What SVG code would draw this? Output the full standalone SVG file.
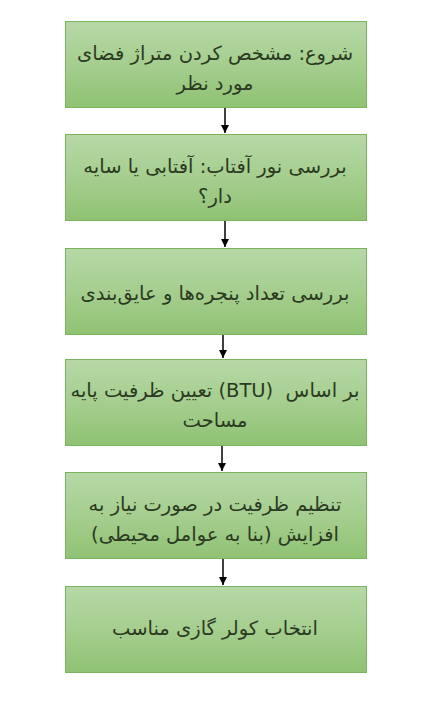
<svg xmlns="http://www.w3.org/2000/svg" width="438" height="705" viewBox="0 0 438 705">
<defs>
<linearGradient id="g" x1="0" y1="0" x2="0" y2="1">
<stop offset="0" stop-color="#b6d8a6"/>
<stop offset="0.5" stop-color="#a5ce8f"/>
<stop offset="1" stop-color="#8fc273"/>
</linearGradient>
<marker id="ah" viewBox="0 0 10 10" refX="10" refY="5" markerWidth="8" markerHeight="8" markerUnits="userSpaceOnUse" orient="auto">
<path d="M0,0 L10,5 L0,10 z" fill="#000"/>
</marker>
<style>
.box{fill:url(#g);stroke:#7cb45d;stroke-width:1}
.t{font-family:"DejaVu Sans","Noto Sans",sans-serif;font-size:19.5px;fill:#2b3a22;text-anchor:middle;direction:rtl}
.c{stroke:#000;stroke-width:1.5;fill:none;marker-end:url(#ah)}
</style>
</defs>
<rect width="438" height="705" fill="#fff"/>
<g id="connectors">
<line class="c" x1="225" y1="107" x2="225" y2="133"/>
<line class="c" x1="225" y1="220" x2="225" y2="247"/>
<line class="c" x1="223" y1="334" x2="223" y2="358"/>
<line class="c" x1="222" y1="445" x2="222" y2="471"/>
<line class="c" x1="223" y1="558" x2="223" y2="585"/>
</g>
<g id="n1">
<rect class="box" x="65.5" y="21.5" width="301" height="86"/>
<text class="t" x="215" y="60">شروع: مشخص کردن متراژ فضای</text>
<text class="t" x="215" y="90">مورد نظر</text>
</g>
<g id="n2">
<rect class="box" x="65.5" y="134.5" width="301" height="86"/>
<text class="t" x="215" y="173">بررسی نور آفتاب: آفتابی یا سایه</text>
<text class="t" x="215" y="203">دار؟</text>
</g>
<g id="n3">
<rect class="box" x="65.5" y="248.5" width="301" height="86"/>
<text class="t" x="215" y="300">بررسی تعداد پنجره‌ها و عایق‌بندی</text>
</g>
<g id="n4">
<rect class="box" x="65.5" y="359.5" width="301" height="86"/>
<text class="t" x="215" y="397" xml:space="preserve">بر اساس  (BTU) تعیین ظرفیت پایه</text>
<text class="t" x="215" y="427">مساحت</text>
</g>
<g id="n5">
<rect class="box" x="65.5" y="472.5" width="301" height="86"/>
<text class="t" x="215" y="511">تنظیم ظرفیت در صورت نیاز به</text>
<text class="t" x="215" y="541">افزایش (بنا به عوامل محیطی)</text>
</g>
<g id="n6">
<rect class="box" x="65.5" y="586.5" width="301" height="86"/>
<text class="t" x="215" y="635">انتخاب کولر گازی مناسب</text>
</g>
</svg>
